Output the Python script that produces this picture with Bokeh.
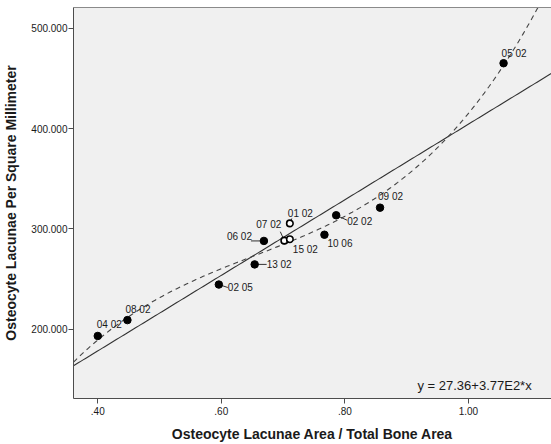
import numpy as np
from bokeh.plotting import figure
from bokeh.models import FixedTicker, LinearAxis, Label, ColumnDataSource
from bokeh.core.properties import value
from bokeh.embed import file_html
from bokeh.resources import INLINE

# ---- data ----
ids = ["04 02", "08 02", "02 05", "13 02", "06 02", "07 02", "15 02", "01 02",
       "10 06", "02 02", "09 02", "05 02"]
area_ratio = [0.400, 0.448, 0.596, 0.654, 0.669, 0.702, 0.711, 0.711,
              0.767, 0.786, 0.857, 1.057]
lacunae_density = [193.1, 208.9, 244.4, 264.5, 287.9, 288.2, 289.6, 305.4,
                   294.1, 313.5, 321.1, 465.2]
hollow = [False, False, False, False, False, True, True, True,
          False, False, False, False]

intercept = 27.36
slope = 3.77e2
equation_text = "y = 27.36+3.77E2*x"

x_ticks = [0.4, 0.6, 0.8, 1.0]
x_tick_labels = [".40", ".60", ".80", "1.00"]
y_ticks = [200, 300, 400, 500]
y_tick_labels = ["200.000", "300.000", "400.000", "500.000"]

x_title = "Osteocyte Lacunae Area / Total Bone Area"
y_title = "Osteocyte Lacunae Per Square Millimeter"

# ---- label placement (pixel offsets from each point) ----
label_dx = [-1, -2, 9, 12, -37, -28, 3, -2, 3, 11, -2, -2]
label_dy = [-11, -11, 3, 0, -4, -16, 10, -10, 9, 6, -11, -10]
# connectors (pixel offsets of connector end from point); None = no connector
conn = [None, None, (9, 3), (12, 0), (-13, 0), (-4, -9), None, (2, -5),
        None, (11, 5), None, None]

X0, X1 = 0.3607, 1.1346
Y0, Y1 = 130.7, 520.8
W, H = 551, 444
L, R, T, B = 72, 0, 7, 43
fw, fh = W - L - R, H - T - B
sx = fw / (X1 - X0)
sy = fh / (Y1 - Y0)

FONT = "Liberation Sans"
TXT = "#1a1a1a"

p = figure(width=W, height=H, x_range=(X0, X1), y_range=(Y0, Y1),
           output_backend="svg", toolbar_location=None,
           min_border_left=L, min_border_right=R, min_border_top=T,
           min_border_bottom=B)
p.background_fill_color = "#f0f0f0"
p.border_fill_color = "white"
p.outline_line_color = None
p.grid.visible = False

# axes
for ax, ticks, labs in ((p.xaxis[0], x_ticks, x_tick_labels),
                        (p.yaxis[0], y_ticks, y_tick_labels)):
    ax.ticker = FixedTicker(ticks=ticks)
    ax.major_label_overrides = {t: l for t, l in zip(ticks, labs)}
    ax.minor_tick_line_color = None
    ax.major_tick_in = 0
    ax.major_tick_out = 5
    ax.major_label_text_font = FONT
    ax.major_label_text_font_size = "10px"
    ax.major_label_text_color = TXT
    ax.axis_line_color = "#4d4d4d"
    ax.major_tick_line_color = "#4d4d4d"
    ax.axis_label_text_font = FONT
    ax.axis_label_text_font_size = "14px"
    ax.axis_label_text_font_style = "bold"
    ax.axis_label_text_color = TXT

p.xaxis.axis_label = x_title
p.yaxis.axis_label = y_title
p.xaxis.major_label_standoff = 3
p.yaxis.major_label_standoff = 1
p.xaxis.axis_label_standoff = 8
p.yaxis.axis_label_standoff = 9

top = LinearAxis(ticker=FixedTicker(ticks=[]), major_tick_out=0, major_tick_in=0,
                 minor_tick_out=0, minor_tick_in=0, major_label_standoff=0,
                 major_label_text_font_size="0px", axis_line_color="#8a8a8a")
p.add_layout(top, "above")

# linear fit (solid)
xs = np.linspace(X0, X1, 200)
p.line(xs, intercept + slope * xs, line_color="#333333", line_width=1.1)

# cubic fit (dashed) computed from the data
coef = np.polyfit(area_ratio, lacunae_density, 3)
p.line(xs, np.polyval(coef, xs), line_color="#444444", line_width=1.1,
       line_dash="5 4")

# connectors
cx0, cy0, cx1, cy1 = [], [], [], []
for xv, yv, c in zip(area_ratio, lacunae_density, conn):
    if c is None:
        continue
    cx0.append(xv); cy0.append(yv)
    cx1.append(xv + c[0] / sx); cy1.append(yv - c[1] / sy)
p.segment(cx0, cy0, cx1, cy1, line_color="#333333", line_width=1)

# points
fx = [x for x, h in zip(area_ratio, hollow) if not h]
fy = [y for y, h in zip(lacunae_density, hollow) if not h]
hx = [x for x, h in zip(area_ratio, hollow) if h]
hy = [y for y, h in zip(lacunae_density, hollow) if h]
p.scatter(fx, fy, size=7.5, fill_color="black", line_color="black")
p.scatter(hx, hy, size=6.5, fill_color="white", line_color="black", line_width=1.6)

# point labels
src = ColumnDataSource(dict(x=area_ratio, y=lacunae_density, t=ids,
                            dx=label_dx, dy=label_dy))
p.text(x="x", y="y", text="t", x_offset="dx", y_offset="dy", source=src,
       text_font=value(FONT), text_font_size="10px", text_color=TXT,
       text_align="left", text_baseline="middle")

# equation
p.add_layout(Label(x=0.9176, y=143.6, text=equation_text, text_font=FONT,
                   text_font_size="13px", text_color=TXT,
                   text_align="left", text_baseline="middle"))

open("out.html", "w").write(file_html(p, INLINE))
